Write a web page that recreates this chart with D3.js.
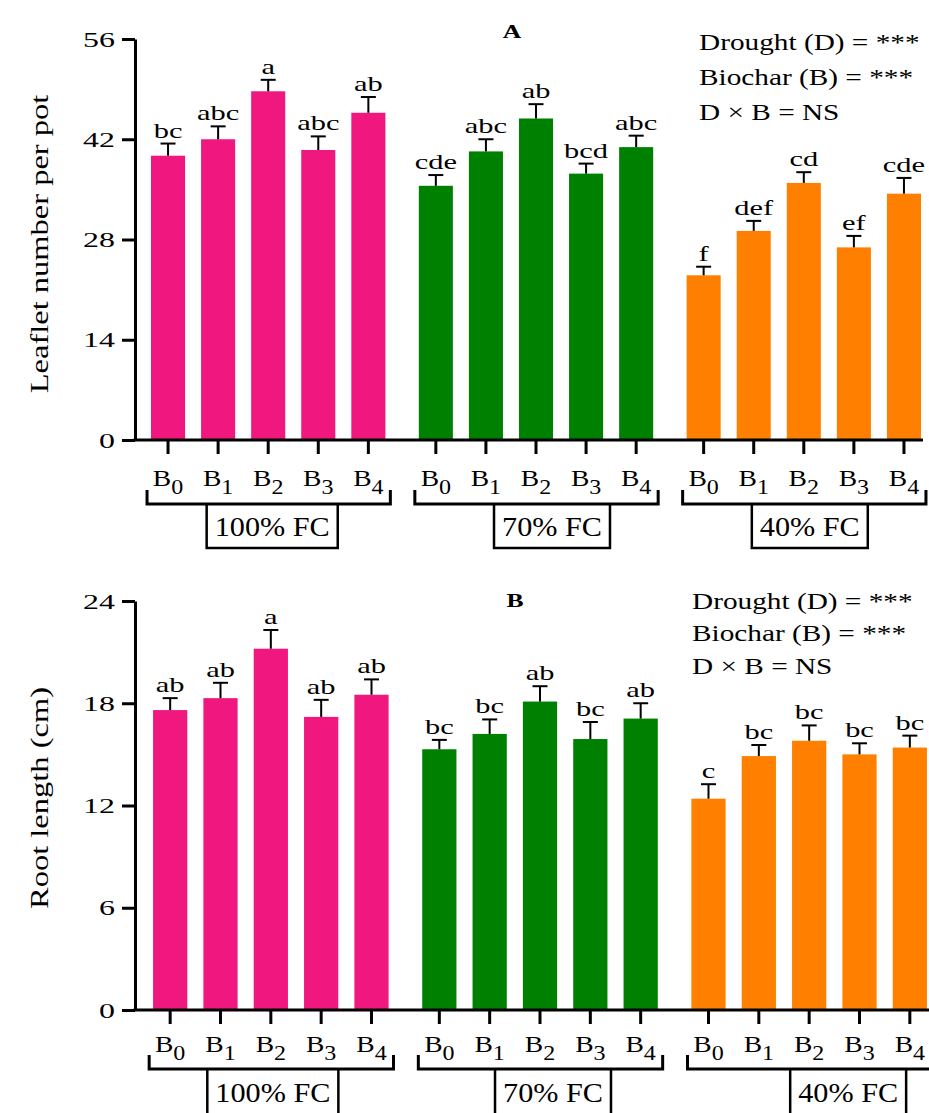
<!DOCTYPE html>
<html>
<head>
<meta charset="utf-8">
<script src="https://cdn.jsdelivr.net/npm/d3@7"></script>
<style>
  body { margin: 0; background: #fff; }
  svg { display: block; }
  text { font-family: "Liberation Serif", "Times New Roman", Times, serif; fill: #000; }
</style>
</head>
<body>
<svg id="chart" width="929" height="1113"></svg>
<script>
// Chart data
const groups = ["100% FC", "70% FC", "40% FC"];
const levels = ["0", "1", "2", "3", "4"];
const groupColors = ["#F0187E", "#008000", "#FF8000"];
const annotation = ["Drought (D) = ***", "Biochar (B) = ***", "D \u00d7 B = NS"];

// Panel A: leaflet number per pot
const leafletMean = [
  [39.7, 42.0, 48.7, 40.5, 45.7],
  [35.5, 40.3, 44.9, 37.2, 40.9],
  [23.0, 29.2, 35.9, 26.9, 34.4]];
const leafletSE = [
  [1.7, 1.8, 1.6, 1.9, 2.2],
  [1.5, 1.7, 2.0, 1.4, 1.6],
  [1.2, 1.4, 1.5, 1.6, 2.2]];
const leafletLetters = [
  ["bc", "abc", "a", "abc", "ab"],
  ["cde", "abc", "ab", "bcd", "abc"],
  ["f", "def", "cd", "ef", "cde"]];
const leafletTicks = [0, 14, 28, 42, 56];

// Panel B: root length (cm)
const rootMean = [
  [17.6, 18.3, 21.2, 17.2, 18.5],
  [15.3, 16.2, 18.1, 15.9, 17.1],
  [12.4, 14.9, 15.8, 15.0, 15.4]];
const rootSE = [
  [0.7, 0.9, 1.1, 1.0, 0.9],
  [0.55, 0.85, 0.9, 1.0, 0.9],
  [0.85, 0.65, 0.9, 0.65, 0.7]];
const rootLetters = [
  ["ab", "ab", "a", "ab", "ab"],
  ["bc", "bc", "ab", "bc", "ab"],
  ["c", "bc", "bc", "bc", "bc"]];
const rootTicks = [0, 6, 12, 18, 24];

const svg = d3.select("#chart");

// the original figure has horizontally stretched lettering
function placeText(sel, x, y, sx) {
  return sel.attr("transform", `translate(${x},${y}) scale(${sx},1)`);
}

function drawPanel(p) {
  const g = svg.append("g");

  let y = d3.scaleLinear().domain([0, p.yMax]).range([p.yBottom, p.yTop]);
  let xOuter = d3.scaleBand().domain(groups).range(p.xRange)
    .paddingInner(0.065).paddingOuter(0);
  let xInner = d3.scaleBand().domain(levels).range([0, xOuter.bandwidth()])
    .paddingInner(0.32).paddingOuter(0.16);

  // Bars, error bars and letters
  groups.forEach((grp, gi) => {
    let gg = g.append("g").attr("transform", `translate(${xOuter(grp)},0)`);
    let rows = levels.map((lv, i) => ({
      lv: lv, mean: p.mean[gi][i], se: p.se[gi][i], letter: p.letters[gi][i]}));

    gg.selectAll("rect").data(rows).join("rect")
      .attr("x", d => xInner(d.lv))
      .attr("width", xInner.bandwidth())
      .attr("y", d => y(d.mean))
      .attr("height", d => y(0) - y(d.mean))
      .attr("fill", groupColors[gi]);

    let cx = d => xInner(d.lv) + xInner.bandwidth() / 2;
    gg.selectAll("line.err").data(rows).join("line")
      .attr("class", "err")
      .attr("x1", cx).attr("x2", cx)
      .attr("y1", d => y(d.mean)).attr("y2", d => y(d.mean + d.se))
      .attr("stroke", "#000").attr("stroke-width", 2);
    gg.selectAll("line.cap").data(rows).join("line")
      .attr("class", "cap")
      .attr("x1", d => cx(d) - 7.5).attr("x2", d => cx(d) + 7.5)
      .attr("y1", d => y(d.mean + d.se)).attr("y2", d => y(d.mean + d.se))
      .attr("stroke", "#000").attr("stroke-width", 2);
    gg.selectAll("text.letter").data(rows).join("text")
      .attr("class", "letter")
      .attr("text-anchor", "middle")
      .style("font-size", "21px")
      .text(d => d.letter)
      .each(function (d) {
        placeText(d3.select(this), cx(d), y(d.mean + d.se) - 6, 1.45);
      });

    // x ticks for this group
    let ax = gg.append("g")
      .attr("transform", `translate(0,${p.yBottom})`)
      .call(d3.axisBottom(xInner).tickSize(14).tickFormat(""));
    ax.select(".domain").remove();
    ax.selectAll(".tick line").attr("stroke-width", 3);
    ax.selectAll(".tick").append("text")
      .attr("text-anchor", "middle")
      .style("font-size", "23px")
      .attr("transform", `translate(0,${p.labelDy}) scale(1.2,1)`)
      .text("B")
      .append("tspan")
      .attr("dy", 8)
      .style("font-size", "20px")
      .text(d => d);

    // bracket and group label box
    let x0 = xInner(levels[0]) + xInner.bandwidth() / 2 - 21;
    let x1 = xInner(levels[4]) + xInner.bandwidth() / 2 + 22;
    let yb = p.yBottom;
    gg.append("path")
      .attr("d", `M${x0},${yb + p.brTop}V${yb + p.brLine}H${x1}V${yb + p.brTop}`)
      .attr("fill", "none").attr("stroke", "#000").attr("stroke-width", 3);
    let mid = xOuter.bandwidth() / 2 + p.boxShift[gi];
    let lab = gg.append("text")
      .attr("text-anchor", "middle")
      .style("font-size", "27px")
      .text(grp);
    placeText(lab, mid, yb + p.boxText, 1.12);
    let half = lab.node().getComputedTextLength() * 1.12 / 2 + 8;
    gg.append("path")
      .attr("d", `M${mid - half},${yb + p.brLine}V${yb + p.boxBottom}H${mid + half}V${yb + p.brLine}`)
      .attr("fill", "none").attr("stroke", "#000").attr("stroke-width", 2.5);
  });

  // y axis
  let yAxis = g.append("g")
    .attr("transform", `translate(${p.axisX},0)`)
    .call(d3.axisLeft(y).tickValues(p.ticks).tickSize(13).tickSizeOuter(0));
  yAxis.select(".domain").attr("stroke-width", 3);
  yAxis.selectAll(".tick line").attr("stroke-width", 3);
  yAxis.selectAll(".tick text")
    .style("font-size", "22px")
    .attr("x", -20 / 1.45)
    .attr("transform", "scale(1.45,1)");

  // x axis baseline
  g.append("line")
    .attr("x1", p.axisX - 1.5).attr("x2", p.xAxisEnd)
    .attr("y1", p.yBottom).attr("y2", p.yBottom)
    .attr("stroke", "#000").attr("stroke-width", 3);

  // y axis title
  g.append("text")
    .attr("text-anchor", "middle")
    .style("font-size", "26px")
    .attr("transform",
      `translate(${p.titleX},${p.titleY}) rotate(-90) scale(1.25,1)`)
    .text(p.yTitle);

  // panel letter
  let pl = g.append("text")
    .attr("text-anchor", "middle")
    .style("font-size", "19px")
    .style("font-weight", "bold")
    .text(p.panel);
  placeText(pl, p.panelX, p.panelY, 1.35);

  // ANOVA annotation
  annotation.forEach((t, i) => {
    let a = g.append("text").style("font-size", "24px").text(t);
    placeText(a, p.noteX, p.noteY[i], 1.22);
  });
}

drawPanel({
  panel: "A", panelX: 512, panelY: 38,
  mean: leafletMean, se: leafletSE, letters: leafletLetters,
  ticks: leafletTicks, yMax: 56, yTop: 39, yBottom: 440,
  xRange: [143, 929], axisX: 135, xAxisEnd: 923,
  yTitle: "Leaflet number per pot", titleX: 48, titleY: 244,
  labelDy: 46, brTop: 50, brLine: 64, boxText: 96, boxBottom: 108,
  boxShift: [4, 16, 6],
  noteX: 699, noteY: [50, 85, 120]
});

drawPanel({
  panel: "B", panelX: 515, panelY: 607,
  mean: rootMean, se: rootSE, letters: rootLetters,
  ticks: rootTicks, yMax: 24, yTop: 601, yBottom: 1010,
  xRange: [145, 935], axisX: 135, xAxisEnd: 929,
  yTitle: "Root length (cm)", titleX: 48, titleY: 798,
  labelDy: 42, brTop: 45, brLine: 59, boxText: 92, boxBottom: 108,
  boxShift: [2, 13, 39],
  noteX: 692, noteY: [609, 641, 674]
});
</script>
</body>
</html>
